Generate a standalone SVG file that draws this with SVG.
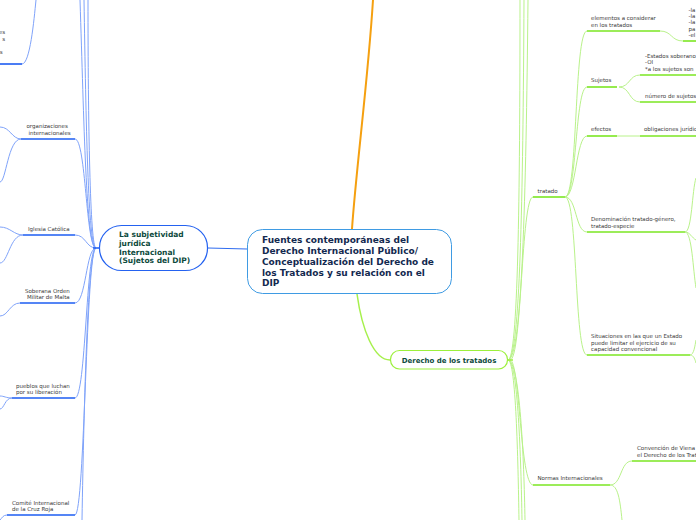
<svg xmlns="http://www.w3.org/2000/svg" width="696" height="520" viewBox="0 0 696 520">
<defs>
<style>
.bg{fill:#ffffff}
.lbl{font-family:"DejaVu Sans",Verdana,sans-serif;font-size:5.5px;fill:#3a3a3a}
.bu{stroke:#1d5cf2;stroke-width:1.6;fill:none}
.bc{stroke:#7fa3fa;stroke-width:1;fill:none}
.gu{stroke:#7be622;stroke-width:1.6;fill:none}
.gc{stroke:#b9f28a;stroke-width:1;fill:none}
.main{font-family:"DejaVu Sans",Verdana,sans-serif;font-weight:bold;font-size:9px;fill:#13294f}
.sub{font-family:"DejaVu Sans",Verdana,sans-serif;font-weight:bold;fill:#0d4a3c}
</style>
</defs>
<rect class="bg" x="0" y="0" width="696" height="520"/>

<g id="connectors">
  <path d="M373,0 C368,80 356,170 352,229" stroke="#f5a010" stroke-width="2" fill="none"/>
  <path d="M208,248 L247,249" stroke="#2f6cf0" stroke-width="1" fill="none"/>
  <path d="M357,294 C362,330 374,360 390,360" stroke="#a6f04c" stroke-width="1.5" fill="none"/>

  <path class="bc" d="M96,248 C86,248 84,120 80,0"/>
  <path class="bc" d="M96,248 C88,248 86,120 84,0"/>
  <path class="bc" d="M96,248 C90,248 88,120 88,0"/>
  <path class="bc" d="M96,248 C88,248 84,400 82,520"/>
  <path class="bc" d="M75,139 C86,139 86,248 96,248"/>
  <path class="bc" d="M75,235 C86,235 86,248 96,248"/>
  <path class="bc" d="M75,303 C86,303 86,248 96,248"/>
  <path class="bc" d="M75,398 C86,398 86,248 96,248"/>
  <path class="bc" d="M75,515 C85,515 86,248 96,248"/>
  <path stroke="#1d5cf2" stroke-width="1.5" fill="none" d="M93,248 L99,248"/>
  <path class="bc" d="M22,64 C30,64 34,20 36,0"/>
  <path class="bc" d="M21,139 C12,139 10,127 0,127"/>
  <path class="bc" d="M21,139 C8,139 6,182 0,182"/>
  <path class="bc" d="M23,235 C14,235 10,227 0,227"/>
  <path class="bc" d="M23,235 C10,235 8,263 0,263"/>
  <path class="bc" d="M20,303 C10,303 8,316 0,316"/>
  <path class="bc" d="M12,398 C6,398 4,396 0,396"/>
  <path class="bc" d="M12,398 C5,398 4,409 0,409"/>
  <path class="bc" d="M7,515 C3,515 2,518 0,520"/>

  <path class="gc" d="M508,360 C518,360 520,200 520,0"/>
  <path class="gc" d="M508,360 C520,360 523,200 524,0"/>
  <path class="gc" d="M508,360 C522,360 526,200 528,0"/>
  <path class="gc" d="M508,360 C516,360 518,460 519,520"/>
  <path class="gc" d="M508,360 C518,360 521,460 522,520"/>
  <path class="gc" d="M508,360 C520,360 524,460 525,520"/>
  <path class="gc" d="M510,360 C522,360 521,197 533,197"/>
  <path class="gc" d="M510,360 C520,360 520,485 533,485"/>
  <path stroke="#9ef040" stroke-width="1.5" fill="none" d="M506,360 L513,360"/>
  <path class="gc" d="M565,197 C578,197 574,31 587,31"/>
  <path class="gc" d="M565,197 C577,197 575,87 587,87"/>
  <path class="gc" d="M565,197 C576,197 576,136 587,136"/>
  <path class="gc" d="M565,197 C577,197 575,232 587,232"/>
  <path class="gc" d="M565,197 C578,197 574,355 587,355"/>
  <path class="gc" d="M660,31 C672,31 671,41 683,41"/>
  <path class="gc" d="M619,87 C630,87 629,75 640,75"/>
  <path class="gc" d="M619,87 C630,87 629,102 640,102"/>
  <path class="gc" d="M617,136 L640,136"/>
  <path class="gc" d="M685,232 C692,232 692,190 696,178"/>
  <path class="gc" d="M685,232 C690,232 692,238 696,240"/>
  <path class="gc" d="M685,232 C692,232 693,270 696,288"/>
  <path class="gc" d="M690,355 C694,355 695,345 696,340"/>
  <path class="gc" d="M690,355 C694,355 695,360 696,363"/>
  <path class="gc" d="M610,485 C622,485 620,461 632,461"/>
  <path class="gc" d="M610,485 C618,485 620,500 622,520"/>
</g>

<g id="central">
  <rect x="247.5" y="229.5" width="204" height="64" rx="15" fill="#ffffff" stroke="#3f9be3" stroke-width="1"/>
  <text class="main" x="262" y="243">Fuentes contemporáneas del</text>
  <text class="main" x="262" y="254">Derecho Internacional Público/</text>
  <text class="main" x="262" y="265">Conceptualización del Derecho de</text>
  <text class="main" x="262" y="275.7">los Tratados y su relación con el</text>
  <text class="main" x="262" y="286.4">DIP</text>
</g>

<g id="sujetos-dip">
  <rect x="99.5" y="225.5" width="108" height="45" rx="22" fill="#ffffff" stroke="#2462f0" stroke-width="1.2"/>
  <text class="sub" font-size="7.5" x="119" y="237">La subjetividad</text>
  <text class="sub" font-size="7.5" x="119" y="246">jurídica</text>
  <text class="sub" font-size="7.5" x="119" y="254.5">Internacional</text>
  <text class="sub" font-size="7.5" x="119" y="263.3">(Sujetos del DIP)</text>
</g>

<g id="derecho-tratados">
  <rect x="390.5" y="350.5" width="117" height="18.5" rx="9" fill="#ffffff" stroke="#9cf03c" stroke-width="1.2"/>
  <text class="sub" font-size="7" x="449" y="362.8" text-anchor="middle">Derecho de los tratados</text>
</g>

<g id="top-left-cut">
  <text class="lbl" x="5" y="34" text-anchor="end">es</text>
  <text class="lbl" x="5" y="40.5" text-anchor="end">s</text>
  <text class="lbl" x="2.5" y="53.5" text-anchor="end">s</text>
  <path class="bu" d="M0,64 L22,64"/>
</g>

<g id="organizaciones">
  <text class="lbl" x="26.5" y="128">organizaciones</text>
  <text class="lbl" x="28.5" y="134.5">internacionales</text>
  <path class="bu" d="M21,139 L75,139"/>
</g>
<g id="iglesia">
  <text class="lbl" x="28" y="231">Iglesia Católica</text>
  <path class="bu" d="M23,235 L75,235"/>
</g>
<g id="malta">
  <text class="lbl" x="25" y="292.5">Soberana Orden</text>
  <text class="lbl" x="27" y="299">Militar de Malta</text>
  <path class="bu" d="M20,303 L75,303"/>
</g>
<g id="pueblos">
  <text class="lbl" x="16" y="387.5">pueblos que luchan</text>
  <text class="lbl" x="16" y="394">por su liberación</text>
  <path class="bu" d="M12,398 L75,398"/>
</g>
<g id="cruz-roja">
  <text class="lbl" x="12" y="504.5">Comité Internacional</text>
  <text class="lbl" x="12" y="511">de la Cruz Roja</text>
  <path class="bu" d="M7,515 L75,515"/>
</g>

<g id="tratado">
  <text class="lbl" x="537.5" y="193">tratado</text>
  <path class="gu" d="M533,197 L565,197"/>
</g>
<g id="elementos">
  <text class="lbl" x="591" y="20">elementos a considerar</text>
  <text class="lbl" x="591" y="27">en los tratados</text>
  <path class="gu" d="M587,31 L660,31"/>
</g>
<g id="elementos-list">
  <text class="lbl" x="688.5" y="11.5">-la</text>
  <text class="lbl" x="688.5" y="17.5">-la</text>
  <text class="lbl" x="688.5" y="24">-la</text>
  <text class="lbl" x="688.5" y="30.5">pa</text>
  <text class="lbl" x="688.5" y="37">-el</text>
  <path class="gu" d="M683,41 L696,41"/>
</g>
<g id="sujetos">
  <text class="lbl" x="591" y="81.5">Sujetos</text>
  <path class="gu" d="M587,87 L617,87"/>
</g>
<g id="estados">
  <text class="lbl" x="645" y="57.5">-Estados soberano</text>
  <text class="lbl" x="645" y="64">-OI</text>
  <text class="lbl" x="645" y="70.5">*a los sujetos son</text>
  <path class="gu" d="M640,75 L696,75"/>
</g>
<g id="numero">
  <text class="lbl" x="645" y="98">número de sujetos</text>
  <path class="gu" d="M640,102 L696,102"/>
</g>
<g id="efectos">
  <text class="lbl" x="591" y="131">efectos</text>
  <path class="gu" d="M587,136 L617,136"/>
</g>
<g id="obligaciones">
  <text class="lbl" x="644" y="131">obligaciones jurídic</text>
  <path class="gu" d="M640,136 L696,136"/>
</g>
<g id="denominacion">
  <text class="lbl" x="591" y="221">Denominación tratado-género,</text>
  <text class="lbl" x="591" y="228">tratado-especie</text>
  <path class="gu" d="M587,232 L685,232"/>
</g>
<g id="situaciones">
  <text class="lbl" x="591" y="338">Situaciones en las que un Estado</text>
  <text class="lbl" x="591" y="344.5">puede limitar el ejercicio de su</text>
  <text class="lbl" x="591" y="351">capacidad convencional</text>
  <path class="gu" d="M587,355 L690,355"/>
</g>
<g id="normas">
  <text class="lbl" x="537.5" y="480">Normas Internacionales</text>
  <path class="gu" d="M533,485 L610,485"/>
</g>
<g id="convencion">
  <text class="lbl" x="637" y="450">Convención de Viena</text>
  <text class="lbl" x="637" y="456.5">el Derecho de los Trat</text>
  <path class="gu" d="M632,461 L696,461"/>
</g>
</svg>
